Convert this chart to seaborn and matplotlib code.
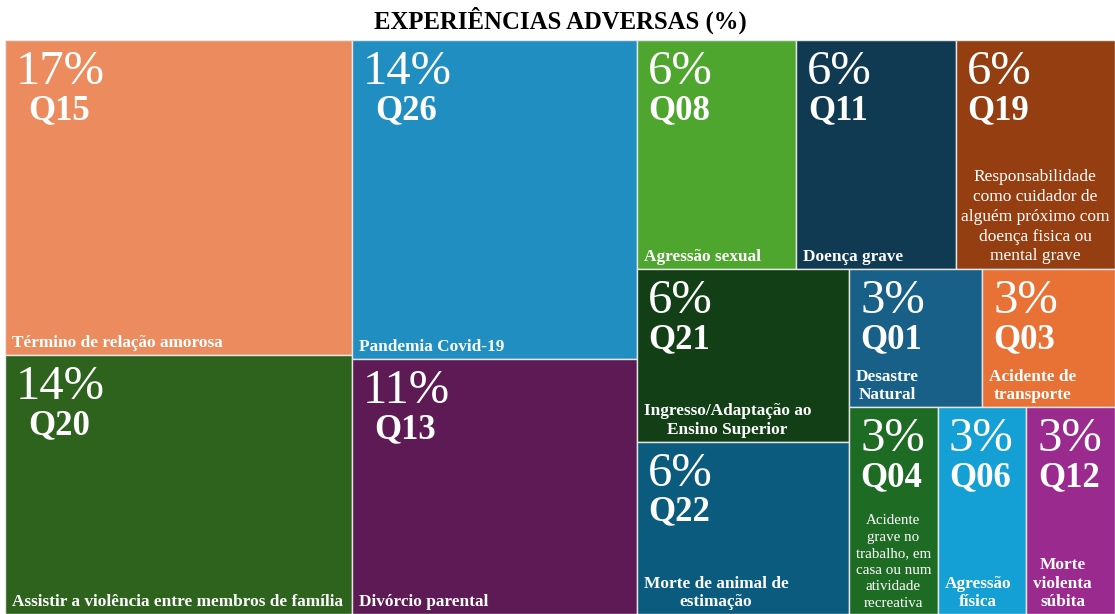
import numpy as np
import pandas as pd
import seaborn as sns
import matplotlib.pyplot as plt

codes = ["Q15", "Q20", "Q26", "Q13", "Q08", "Q11", "Q19", "Q21", "Q22",
         "Q01", "Q03", "Q04", "Q06", "Q12"]
values = [17.2, 14.1, 14.3, 11.4, 5.75, 5.75, 5.75, 5.75, 5.75,
          2.88, 2.88, 2.88, 2.88, 2.88]
pct_labels = ["17%", "14%", "14%", "11%", "6%", "6%", "6%", "6%", "6%",
              "3%", "3%", "3%", "3%", "3%"]
names = ["Término de relação amorosa",
         "Assistir a violência entre membros de família",
         "Pandemia Covid-19",
         "Divórcio parental",
         "Agressão sexual",
         "Doença grave",
         "Responsabilidade\ncomo cuidador de\nalguém próximo com\ndoença fisica ou\nmental grave",
         "Ingresso/Adaptação ao\nEnsino Superior",
         "Morte de animal de\nestimação",
         "Desastre\nNatural",
         "Acidente de\ntransporte",
         "Acidente\ngrave no\ntrabalho, em\ncasa ou num\natividade\nrecreativa",
         "Agressão\nfísica",
         "Morte\nviolenta\nsúbita"]
colors = ["#EC8C5E", "#2E631E", "#218EC2", "#5E1A55", "#4FA62F", "#0F3A52",
          "#943E11", "#123F16", "#0B5B7E", "#186087", "#E87236", "#1E6B24",
          "#14A0D4", "#9B2A8E"]
# strips of the treemap: direction and number of items
groups = [("col", 2), ("col", 2), ("row", 3), ("col", 2), ("row", 2), ("row", 3)]

W, H = 1110, 574


def treemap(vals, groups, x, y, w, h):
    rects = []
    i = 0
    for d, n in groups:
        part = vals[i:i + n]
        s = sum(part)
        rest = sum(vals[i:])
        if d == "col":
            gw = w * s / rest
            yy = y
            for v in part:
                hh = h * v / s
                rects.append((x, yy, gw, hh))
                yy += hh
            x += gw
            w -= gw
        else:
            gh = h * s / rest
            xx = x
            for v in part:
                ww = w * v / s
                rects.append((xx, y, ww, gh))
                xx += ww
            y += gh
            h -= gh
        i += n
    return rects


rects = treemap(values, groups, 0, 0, W, H)
df = pd.DataFrame(rects, columns=["x", "y", "w", "h"])
df["code"] = codes

sns.set_theme(style="white")
plt.rcParams["font.family"] = ["Liberation Serif", "DejaVu Serif"]

fig = plt.figure(figsize=(11.15, 6.14), dpi=100)
ax = fig.add_axes([5 / 1115, 0, W / 1115, H / 614])
ax.bar(df["x"], df["h"], width=df["w"], bottom=df["y"], align="edge",
       color=colors, edgecolor="#e6e6e6", linewidth=1)
ax.set_xlim(0, W)
ax.set_ylim(H, 0)
ax.axis("off")

for k, r in df.iterrows():
    x0, y0, w, h = r["x"], r["y"], r["w"], r["h"]
    t = ax.text(x0 + 11, y0 + 44, pct_labels[k], color="white", fontsize=35,
                ha="left", va="baseline")
    ax.annotate(codes[k], xy=(0.5, 0), xycoords=t, xytext=(-1, -25),
                textcoords="offset pixels", ha="center", va="baseline",
                color="white", fontsize=25, fontweight="bold")
    if r["code"] == "Q19":
        ax.text(x0 + w / 2, y0 + h - 5, names[k], color="white", fontsize=12.5,
                ha="center", va="bottom", multialignment="center",
                linespacing=1.32)
    elif r["code"] == "Q04":
        ax.text(x0 + w / 2, y0 + h - 4, names[k], color="white", fontsize=10.8,
                ha="center", va="bottom", multialignment="center",
                linespacing=1.35)
    else:
        ax.text(x0 + 7, y0 + h - 4, names[k], color="white", fontsize=12.4,
                fontweight="bold", ha="left", va="bottom",
                multialignment="center", linespacing=1.2)

fig.text(560 / 1115, 1 - 29 / 614, "EXPERIÊNCIAS ADVERSAS (%)", ha="center",
         va="baseline", fontsize=17.8, fontweight="bold", color="black")

fig.savefig("out.png", dpi=100, facecolor="white")
